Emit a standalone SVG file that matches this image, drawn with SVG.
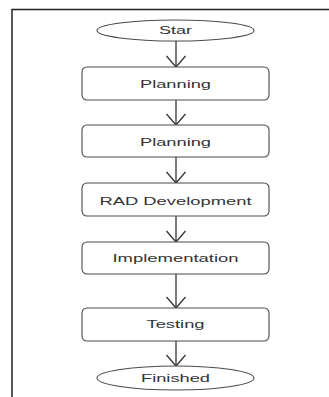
<svg xmlns="http://www.w3.org/2000/svg" width="329" height="397" viewBox="0 0 329 397">
<style>
.node{fill:#fff;stroke:#4a4a4a;stroke-width:1.1}
.lbl{font-family:"Liberation Sans",Arial,sans-serif;font-size:11.5px;fill:#333;text-anchor:middle}
.conn{stroke:#333;stroke-width:1.3;fill:none}
.frame{stroke:#222;stroke-width:1.5;fill:none}
</style>
<defs>
<marker id="arr" markerUnits="userSpaceOnUse" markerWidth="24" markerHeight="24" refX="0" refY="0" viewBox="-13 -12 15 24" orient="auto">
<path d="M-11,-9.5 L0,0 L-11,9.5" fill="none" stroke="#333" stroke-width="1.3"/>
</marker>
</defs>
<rect width="329" height="397" fill="#fff"/>
<path class="frame" d="M12,397 L12,9.5 L329,9.5"/>
<g id="connectors">
<line class="conn" x1="176" y1="41" x2="176" y2="67" marker-end="url(#arr)"/>
<line class="conn" x1="176" y1="100" x2="176" y2="125" marker-end="url(#arr)"/>
<line class="conn" x1="176" y1="157" x2="176" y2="183" marker-end="url(#arr)"/>
<line class="conn" x1="176" y1="216" x2="176" y2="242" marker-end="url(#arr)"/>
<line class="conn" x1="176" y1="274" x2="176" y2="308" marker-end="url(#arr)"/>
<line class="conn" x1="176" y1="341" x2="176" y2="366" marker-end="url(#arr)"/>
</g>
<g id="start">
<ellipse class="node" cx="175.5" cy="30.5" rx="78.5" ry="10.5"/>
<text class="lbl" x="175.5" y="34" textLength="33" lengthAdjust="spacingAndGlyphs">Star</text>
</g>
<g id="planning1">
<rect class="node" x="82" y="67" width="187" height="33" rx="5"/>
<text class="lbl" x="175.5" y="87.5" textLength="71" lengthAdjust="spacingAndGlyphs">Planning</text>
</g>
<g id="planning2">
<rect class="node" x="82" y="125" width="187" height="32" rx="5"/>
<text class="lbl" x="175.5" y="145.5" textLength="71" lengthAdjust="spacingAndGlyphs">Planning</text>
</g>
<g id="rad">
<rect class="node" x="82" y="183" width="187" height="33" rx="5"/>
<text class="lbl" x="175.5" y="204.5" textLength="152" lengthAdjust="spacingAndGlyphs">RAD Development</text>
</g>
<g id="implementation">
<rect class="node" x="82" y="242" width="187" height="32" rx="5"/>
<text class="lbl" x="175.5" y="262" textLength="126" lengthAdjust="spacingAndGlyphs">Implementation</text>
</g>
<g id="testing">
<rect class="node" x="82" y="308" width="187" height="33" rx="5"/>
<text class="lbl" x="175.5" y="328" textLength="58" lengthAdjust="spacingAndGlyphs">Testing</text>
</g>
<g id="finished">
<ellipse class="node" cx="175.5" cy="378" rx="78.5" ry="12"/>
<text class="lbl" x="175.5" y="382" textLength="69" lengthAdjust="spacingAndGlyphs">Finished</text>
</g>
</svg>
